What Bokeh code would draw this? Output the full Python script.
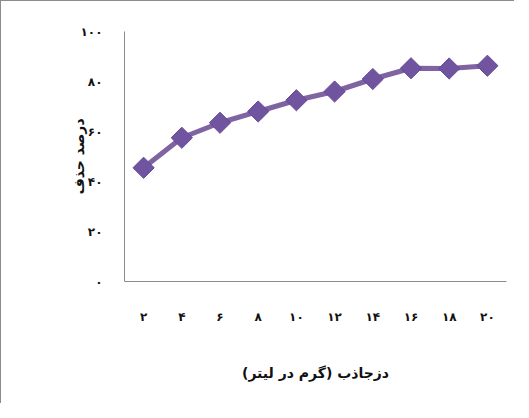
from bokeh.plotting import figure
from bokeh.models import FixedTicker, Range1d
from bokeh.layouts import column
from bokeh.embed import file_html
from bokeh.resources import INLINE
import numpy as np

# data
categories = ["۲", "۴", "۶", "۸", "۱۰", "۱۲", "۱۴", "۱۶", "۱۸", "۲۰"]
removal = [45.5, 57.5, 63.5, 68.0, 72.5, 76.0, 81.0, 85.3, 85.2, 86.3]
y_ticks = [0, 20, 40, 60, 80, 100]
y_tick_labels = ["۰", "۲۰", "۴۰", "۶۰", "۸۰", "۱۰۰"]
x_title = "دزجاذب (گرم در لیتر)"
y_title = "درصد حذف"

FONT = "DejaVu Sans"

p = figure(width=513, height=402, x_range=categories, y_range=Range1d(0, 100),
           output_backend="svg", toolbar_location=None,
           min_border_left=123, min_border_right=8, min_border_top=30, min_border_bottom=122)
p.x_range.range_padding = 0
p.outline_line_color = None
p.xgrid.grid_line_color = None
p.ygrid.grid_line_color = None

p.line(categories, removal, line_color="#8064a2", line_width=5)
p.scatter(categories, removal, marker="square", angle=np.pi / 4, size=15,
          fill_color="#7054a0", line_color="#634896", line_width=1)

for ax in (p.xaxis[0], p.yaxis[0]):
    ax.axis_line_color = "#8c8c8c"
    ax.axis_line_width = 1
    ax.major_tick_line_color = None
    ax.minor_tick_line_color = None
    ax.major_label_text_font = FONT
    ax.major_label_text_font_size = "12px"
    ax.major_label_text_font_style = "bold"
    ax.major_label_text_color = "#111111"
    ax.axis_label_text_font = FONT
    ax.axis_label_text_font_size = "14px"
    ax.axis_label_text_font_style = "bold"
    ax.axis_label_text_color = "#111111"

p.yaxis[0].ticker = FixedTicker(ticks=y_ticks)
p.yaxis[0].major_label_overrides = {t: l for t, l in zip(y_ticks, y_tick_labels)}
p.yaxis[0].major_label_standoff = 16
p.yaxis[0].axis_label = y_title
p.yaxis[0].axis_label_standoff = -9

p.xaxis[0].major_label_standoff = 22
p.xaxis[0].axis_label = x_title
p.xaxis[0].axis_label_standoff = 38

layout = column(p, styles={"border-top": "1px solid #8c8c8c", "border-left": "1px solid #8c8c8c"})

open("out.html", "w").write(file_html(layout, INLINE))
